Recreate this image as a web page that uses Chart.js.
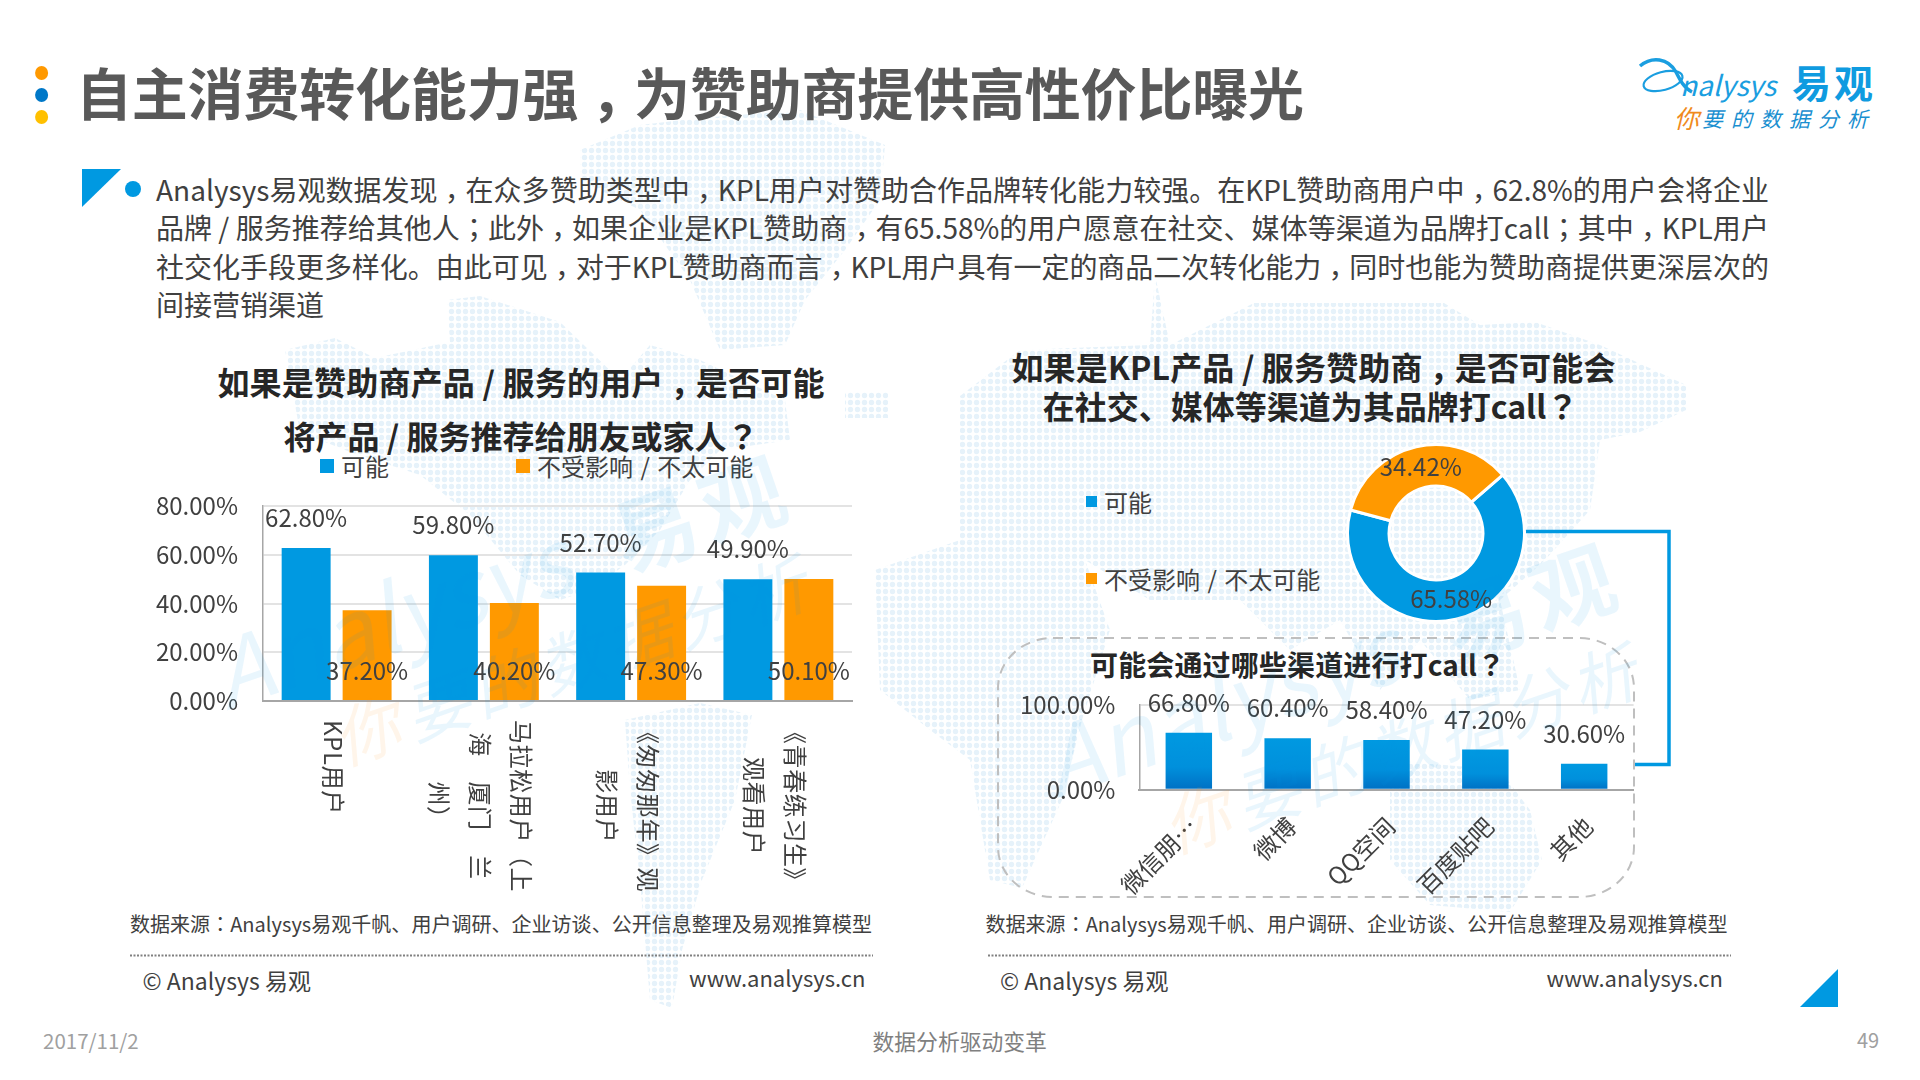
<!DOCTYPE html>
<html lang="zh-CN"><head><meta charset="utf-8">
<script src="https://cdn.jsdelivr.net/npm/chart.js@4"></script>
<style>
html,body{margin:0;padding:0;background:#fff;width:1920px;height:1080px;overflow:hidden}
body{position:relative;font-family:"Noto Sans CJK SC","Noto Sans",sans-serif;color:#404040}
.t{position:absolute;white-space:nowrap;line-height:1;transform:translateY(-50%)}
.c{transform:translate(-50%,-50%)}
.p{font-family:"Noto Sans CJK TC"}
.low{position:relative;top:.3em}
canvas{position:absolute}
svg{position:absolute;left:0;top:0}
.sq{position:absolute}
</style></head><body>
<svg width="1920" height="1080" style="z-index:0">
<defs><pattern id="d" width="7" height="7" patternUnits="userSpaceOnUse"><circle cx="3.5" cy="3.5" r="2.7" fill="#e6f2fa"/></pattern></defs>
<g fill="url(#d)">
<polygon points="580,150 640,125 700,118 800,110 885,145 880,200 845,250 805,300 785,345 720,350 690,280 640,210 580,180"/>
<polygon points="285,350 335,338 375,358 450,342 447,300 480,296 560,322 620,380 650,345 700,360 785,400 790,440 720,450 690,480 660,530 625,565 590,590 560,600 520,575 470,515 420,475 350,452 300,432"/>
<polygon points="845,392 888,392 888,418 845,418"/>
<polygon points="625,720 700,703 752,715 735,800 702,880 682,950 672,1008 650,1000 640,880 630,790"/>
<polygon points="875,570 960,540 1085,560 1110,630 1082,720 1062,800 1022,888 990,880 970,760 930,730 880,690"/>
<polygon points="960,396 1020,350 1150,345 1155,275 1170,345 1254,303 1444,303 1480,325 1535,322 1600,345 1686,385 1686,410 1640,432 1600,440 1590,510 1545,560 1500,600 1520,690 1470,700 1420,640 1380,690 1340,620 1290,650 1240,600 1150,600 1085,560 960,540"/>
<polygon points="1390,760 1500,770 1530,810 1542,860 1510,912 1430,905 1390,860"/>
</g>
<polygon points="82,169 121,169 82,207" fill="#0099e1"/>
<polygon points="1838,969 1838,1007 1800,1007" fill="#0099e1"/>
<ellipse cx="41.6" cy="73" rx="6.5" ry="7" fill="#ff9900"/>
<ellipse cx="41.6" cy="95" rx="6.5" ry="7" fill="#0078c8"/>
<ellipse cx="41.6" cy="117" rx="6.5" ry="7" fill="#ffc000"/>
<ellipse cx="133" cy="189" rx="8" ry="8" fill="#0099e1"/>
<polyline points="1523,531.5 1669,531.5 1669,764.5 1634,764.5" fill="none" stroke="#0099e1" stroke-width="3.5"/>
<rect x="998" y="638" width="636" height="259" rx="55" ry="50" fill="none" stroke="#bfbfbf" stroke-width="2" stroke-dasharray="10 7"/>
<line x1="130" y1="955.5" x2="873" y2="955.5" stroke="#808080" stroke-width="2" stroke-dasharray="2 1.5"/>
<line x1="988" y1="955.5" x2="1731" y2="955.5" stroke="#808080" stroke-width="2" stroke-dasharray="2 1.5"/>
<g fill="none" stroke="#1a9ee0">
<path d="M1640,66 C1652,56 1668,58 1676,72 C1680,80 1684,88 1692,92" stroke-width="3.5"/>
<ellipse cx="1663" cy="81" rx="20" ry="9" transform="rotate(-15 1663 81)" stroke-width="2.2"/>
</g>
</svg>

<div class="t" data-w="1228" style="left:76px;top:91px;font-size:56px;font-weight:700;color:#595959">自主消费转化能力强，为赞助商提供高性价比曝光</div>

<div class="t" style="left:1680px;top:84px;font-size:28px;font-style:italic;color:#1a9ee0">nalysys</div>
<div class="t" style="left:1792px;top:81px;font-size:39px;font-weight:700;color:#0f9be0;letter-spacing:3px">易观</div>
<div class="t" style="left:1674px;top:117px;font-size:25px;font-style:italic;color:#f08a1d">你</div>
<div class="t" style="left:1702px;top:118px;font-size:21px;font-style:italic;color:#1a8fd0;letter-spacing:8px">要的数据分析</div>

<div class="t" data-w="1613" style="left:156px;top:189px;font-size:28px">Analysys易观数据发现，在众多赞助类型中，KPL用户对赞助合作品牌转化能力较强。在KPL赞助商用户中，62.8%的用户会将企业</div>
<div class="t" data-w="1613" style="left:156px;top:227px;font-size:28px">品牌 / 服务推荐给其他人；此外，如果企业是KPL赞助商，有65.58%的用户愿意在社交、媒体等渠道为品牌打call；其中，KPL用户</div>
<div class="t" data-w="1613" style="left:156px;top:265.500px;font-size:28px">社交化手段更多样化。由此可见，对于KPL赞助商而言，KPL用户具有一定的商品二次转化能力，同时也能为赞助商提供更深层次的</div>
<div class="t" style="left:156px;top:304px;font-size:28px">间接营销渠道</div>

<div class="t c" data-w="607" style="left:521px;top:381px;font-size:32px;font-weight:700;color:#262626">如果是赞助商产品 / 服务的用户，是否可能</div>
<div class="t c" style="left:521px;top:435px;font-size:32px;font-weight:700;color:#262626">将产品 / 服务推荐给朋友或家人？</div>
<div class="t c" data-w="604" style="left:1313.500px;top:366px;font-size:32px;font-weight:700;color:#262626">如果是KPL产品 / 服务赞助商，是否可能会</div>
<div class="t c" style="left:1310.500px;top:405px;font-size:32px;font-weight:700;color:#262626">在社交、媒体等渠道为其品牌打call？</div>
<div class="t" data-w="415" style="left:1090px;top:664px;font-size:28px;font-weight:700;color:#262626">可能会通过哪些渠道进行打call？</div>

<div id="legends"></div>

<div class="t" data-w="742" style="left:130px;top:923.500px;font-size:20px">数据来源：Analysys易观千帆、用户调研、企业访谈、公开信息整理及易观推算模型</div>
<div class="t" data-w="742" style="left:985.500px;top:923.500px;font-size:20px">数据来源：Analysys易观千帆、用户调研、企业访谈、公开信息整理及易观推算模型</div>
<div class="t" style="left:142.500px;top:980px;font-size:23px">© Analysys 易观</div>
<div class="t" style="left:1000px;top:980px;font-size:23px">© Analysys 易观</div>
<div class="t" style="left:689px;top:977px;font-size:22px">www.analysys.cn</div>
<div class="t" style="left:1546.500px;top:977px;font-size:22px">www.analysys.cn</div>
<div class="t" style="left:43px;top:1040px;font-size:20.500px;color:#a0a0a0">2017/11/2</div>
<div class="t" style="left:872.500px;top:1041px;font-size:21.800px;color:#808080">数据分析驱动变革</div>
<div class="t" style="left:1857px;top:1040px;font-size:20px;color:#a0a0a0">49</div>

<canvas id="left" width="860" height="460" style="left:100px;top:440px;z-index:2"></canvas>
<canvas id="donut" width="180" height="180" style="left:1346px;top:443px;z-index:2"></canvas>
<canvas id="channels" width="640" height="255" style="left:1000px;top:640px;z-index:2"></canvas>

<svg width="1920" height="1080" style="z-index:3;pointer-events:none">
<g font-family="'Noto Sans CJK SC'" fill="#0096e6" fill-opacity="0.085">
<g transform="translate(0 12) rotate(-19 218 673)">
<text x="218" y="700" font-size="92" font-style="italic">Analysys</text>
<text x="640" y="700" font-size="84" font-weight="700" letter-spacing="8">易观</text>
<text x="385" y="790" font-size="66" font-style="italic" letter-spacing="5">要的数据分析</text>
<text x="310" y="790" font-size="66" font-style="italic" fill="#ff8c1a" fill-opacity="0.09">你</text>
</g>
<g transform="translate(830 100) rotate(-19 218 673)">
<text x="218" y="700" font-size="92" font-style="italic">Analysys</text>
<text x="640" y="700" font-size="84" font-weight="700" letter-spacing="8">易观</text>
<text x="385" y="790" font-size="66" font-style="italic" letter-spacing="5">要的数据分析</text>
<text x="310" y="790" font-size="66" font-style="italic" fill="#ff8c1a" fill-opacity="0.09">你</text>
</g>
</g>
</svg>

<script>
// ---------- data ----------
const seriesNames = ['可能', '不受影响 / 不太可能'];
const leftCategories = [
  ['KPL用户'],
  ['马拉松用户（上', '海　厦门　兰', '州）'],
  ['《匆匆那年》观', '影用户'],
  ['《青春练习生》', '观看用户']
];
const likelyValues = [62.8, 59.8, 52.7, 49.9];
const unlikelyValues = [37.2, 40.2, 47.3, 50.1];
const donutValues = [65.58, 34.42];
const channelCategories = ['微信朋…', '微博', 'QQ空间', '百度贴吧', '其他'];
const channelValues = [66.8, 60.4, 58.4, 47.2, 30.6];
const leftTicks = [0, 20, 40, 60, 80];
const channelTicks = [0, 100];
// ---------- styles ----------
const BLUE = '#0099e1', ORANGE = '#ff9900', INK = '#404040';
const FONT = '"Noto Sans CJK SC","Noto Sans",sans-serif';
Chart.defaults.font.family = FONT;
Chart.defaults.font.size = 24;
Chart.defaults.color = INK;
const pct = v => Number(v).toFixed(2) + '%';

// centred fullwidth punctuation, then fit each line to its measured width
document.querySelectorAll('.t').forEach(el => {
  el.innerHTML = el.textContent.replace(/[，：；？]/g, m =>
    `<span class="p${m === '，' ? ' low' : ''}" lang="zh-TW">${m}</span>`);
  const w = +el.dataset.w;
  if (w) {
    const nat = el.getBoundingClientRect().width;
    el.style.letterSpacing = ((w - nat) / (el.textContent.length - 1)).toFixed(3) + 'px';
  }
});

function legendItem(x, yc, size, color, textX, text) {
  const host = document.getElementById('legends');
  const s = document.createElement('div');
  s.className = 'sq';
  s.style.cssText = `left:${x}px;top:${yc - size / 2}px;width:${size}px;height:${size}px;background:${color}`;
  host.appendChild(s);
  const t = document.createElement('div');
  t.className = 't';
  t.style.cssText = `left:${textX}px;top:${yc}px;font-size:24px;word-spacing:2px`;
  t.textContent = text;
  host.appendChild(t);
}
legendItem(320, 465.5, 14, BLUE, 341, seriesNames[0]);
legendItem(516, 465.5, 14, ORANGE, 537, seriesNames[1]);
legendItem(1085.5, 501.5, 11, BLUE, 1104, seriesNames[0]);
legendItem(1085.5, 578.5, 11, ORANGE, 1104, seriesNames[1]);

const barLabels = {
  id: 'barLabels',
  afterDatasetsDraw(chart, args, opts) {
    const { ctx } = chart;
    ctx.save();
    ctx.font = '24px ' + FONT;
    ctx.fillStyle = INK;
    ctx.textAlign = 'center';
    ctx.textBaseline = 'middle';
    chart.data.datasets.forEach((ds, di) => {
      chart.getDatasetMeta(di).data.forEach((el, i) => {
        const y = (opts.inside && opts.inside[di])
          ? chart.scales.y.getPixelForValue(0) - 30
          : el.y - 30;
        ctx.fillText(pct(ds.data[i]), el.x, y);
      });
    });
    ctx.restore();
  }
};
const wrappedTicks = {
  id: 'wrappedTicks',
  afterDraw(chart) {
    const { ctx } = chart, sx = chart.scales.x;
    ctx.save();
    ctx.font = '24px ' + FONT;
    ctx.fillStyle = INK;
    ctx.textAlign = 'center';
    ctx.textBaseline = 'middle';
    ctx.letterSpacing = '0.6px';
    leftCategories.forEach((lines, i) => {
      const px = sx.getPixelForTick(i) - 4;
      const w = Math.max(...lines.map(l => ctx.measureText(l).width));
      const yc = sx.top + 19 + w / 2;
      lines.forEach((line, k) => {
        ctx.save();
        ctx.translate(px + ((lines.length - 1) / 2 - k) * 41, yc);
        ctx.rotate(Math.PI / 2);
        ctx.fillText(line, 0, 0);
        ctx.restore();
      });
    });
    ctx.restore();
  }
};
const donutLabels = {
  id: 'donutLabels',
  afterDatasetsDraw(chart) {
    const { ctx } = chart;
    ctx.save();
    ctx.font = '24px ' + FONT;
    ctx.fillStyle = INK;
    ctx.textAlign = 'center';
    ctx.textBaseline = 'middle';
    chart.getDatasetMeta(0).data.forEach((el, i) => {
      const p = el.tooltipPosition();
      ctx.fillText(pct(donutValues[i]), p.x, p.y);
    });
    ctx.restore();
  }
};

new Chart(document.getElementById('left'), {
  type: 'bar',
  data: {
    labels: leftCategories,
    datasets: [
      { label: seriesNames[0], data: likelyValues, backgroundColor: BLUE },
      { label: seriesNames[1], data: unlikelyValues, backgroundColor: ORANGE }
    ]
  },
  options: {
    responsive: false, animation: false,
    layout: { padding: { top: 66, right: 108 } },
    categoryPercentage: 0.828, barPercentage: 0.803,
    plugins: { legend: { display: false }, tooltip: { enabled: false }, barLabels: { inside: [false, true] } },
    scales: {
      x: {
        grid: { display: false }, border: { color: '#a6a6a6', width: 2 },
        ticks: { display: false },
        afterFit(s) { s.height = 199; }
      },
      y: {
        min: 0, max: 80,
        afterBuildTicks(s) { s.ticks = leftTicks.map(v => ({ value: v })); },
        grid: { color: '#e3e3e3', lineWidth: 2, drawTicks: false },
        border: { color: '#a6a6a6', width: 1.5 },
        ticks: { padding: 25, callback: pct, color: INK },
        afterFit(s) { s.width = 163; }
      }
    }
  },
  plugins: [barLabels, wrappedTicks]
});

new Chart(document.getElementById('donut'), {
  type: 'doughnut',
  data: {
    labels: seriesNames,
    datasets: [{ data: donutValues, backgroundColor: [BLUE, ORANGE], borderColor: '#fff', borderWidth: 3 }]
  },
  options: {
    responsive: false, animation: false, rotation: 49, cutout: '53%',
    plugins: { legend: { display: false }, tooltip: { enabled: false } }
  },
  plugins: [donutLabels]
});

new Chart(document.getElementById('channels'), {
  type: 'bar',
  data: {
    labels: channelCategories,
    datasets: [{
      label: seriesNames[0],
      data: channelValues,
      backgroundColor(c) {
        const { chart, dataIndex } = c;
        if (!chart.chartArea) return BLUE;
        const sy = chart.scales.y;
        const g = chart.ctx.createLinearGradient(0, sy.getPixelForValue(channelValues[dataIndex]), 0, sy.getPixelForValue(0));
        g.addColorStop(0, '#0099e1');
        g.addColorStop(0.6, '#0090dc');
        g.addColorStop(1, '#0070c4');
        return g;
      }
    }]
  },
  options: {
    responsive: false, animation: false,
    layout: { padding: { top: 64.6, right: 6.4 } },
    categoryPercentage: 0.47, barPercentage: 1,
    plugins: { legend: { display: false }, tooltip: { enabled: false }, barLabels: {} },
    scales: {
      x: {
        grid: { display: false }, border: { color: '#a6a6a6', width: 2 },
        ticks: { autoSkip: false, minRotation: 45, maxRotation: 45, padding: 14, labelOffset: 4, color: INK },
        afterFit(s) { s.height = 105.3; }
      },
      y: {
        min: 0, max: 100,
        afterBuildTicks(s) { s.ticks = channelTicks.map(v => ({ value: v })); },
        grid: { color: '#e3e3e3', lineWidth: 2, drawTicks: false },
        border: { color: '#a6a6a6', width: 1.5 },
        ticks: { padding: 24, callback: pct, color: INK },
        afterFit(s) { s.width = 139.4; }
      }
    }
  },
  plugins: [barLabels]
});
</script>
</body></html>
